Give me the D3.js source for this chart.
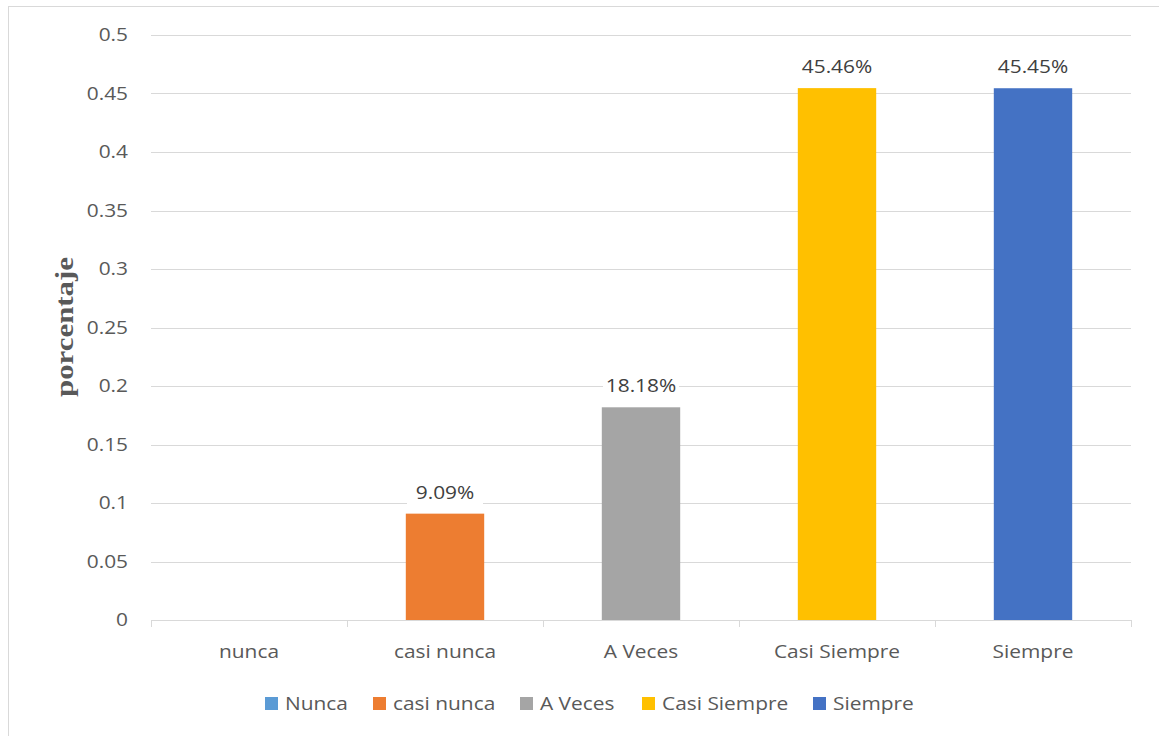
<!DOCTYPE html>
<html>
<head>
<meta charset="utf-8">
<script src="https://cdn.jsdelivr.net/npm/d3@7"></script>
<style>
  html, body { margin: 0; padding: 0; background: #fff; }
  svg { display: block; }
</style>
</head>
<body>
<svg id="chart" width="1159" height="736"></svg>
<script>
// Response categories and their share of answers
const categories = ["nunca", "casi nunca", "A Veces", "Casi Siempre", "Siempre"];
const legendNames = ["Nunca", "casi nunca", "A Veces", "Casi Siempre", "Siempre"];
const values = [0, 0.0909, 0.1818, 0.4546, 0.4545];
const valueLabels = [null, "9.09%", "18.18%", "45.46%", "45.45%"];
const colors = ["#5B9BD5", "#ED7D31", "#A5A5A5", "#FFC000", "#4472C4"];
const yTicks = [0, 0.05, 0.1, 0.15, 0.2, 0.25, 0.3, 0.35, 0.4, 0.45, 0.5];

const svg = d3.select("#chart");
const font = "'Open Sans', 'Noto Sans', sans-serif";
const stretch = 1.16; // wide text rendering

// Text helper: places a label at (x, y) with horizontal stretch
function label(parent, x, y, str, opts = {}) {
  return parent.append("text")
    .attr("transform", `translate(${x},${y}) scale(${stretch},1)`)
    .attr("text-anchor", opts.anchor || "start")
    .attr("dy", opts.dy || null)
    .attr("font-family", font)
    .attr("font-size", opts.size || 18)
    .attr("fill", opts.fill || "#595959")
    .text(str);
}

// Outer chart frame
svg.append("rect")
  .attr("x", 8.5).attr("y", 6.5)
  .attr("width", 1160).attr("height", 740)
  .attr("fill", "#fff")
  .attr("stroke", "#d9d9d9").attr("stroke-width", 1);

const plot = { left: 151, right: 1131, top: 35, bottom: 620 };

const x = d3.scaleBand()
  .domain(categories)
  .range([plot.left, plot.right])
  .paddingInner(0.6)
  .paddingOuter(0.3);

const xOuter = d3.scaleBand()
  .domain(categories)
  .range([plot.left, plot.right]);

const y = d3.scaleLinear()
  .domain([0, 0.5])
  .range([plot.bottom, plot.top]);

// Horizontal gridlines
svg.append("g")
  .selectAll("line")
  .data(yTicks.filter(t => t > 0))
  .join("line")
  .attr("x1", plot.left).attr("x2", plot.right)
  .attr("y1", d => Math.round(y(d)) + 0.5).attr("y2", d => Math.round(y(d)) + 0.5)
  .attr("stroke", "#d9d9d9").attr("stroke-width", 1);

// Y axis labels
const yLab = svg.append("g");
yTicks.forEach(t => label(yLab, 128, y(t), d3.format("")(t), { anchor: "end", dy: "0.35em" }));

// Bars
svg.append("g")
  .selectAll("rect")
  .data(values)
  .join("rect")
  .attr("x", (d, i) => x(categories[i]))
  .attr("width", x.bandwidth())
  .attr("y", d => y(d))
  .attr("height", d => y(0) - y(d))
  .attr("fill", (d, i) => colors[i]);

// X axis baseline and category ticks
const xAxis = svg.append("g");
xAxis.append("line")
  .attr("x1", plot.left).attr("x2", plot.right)
  .attr("y1", y(0) + 0.5).attr("y2", y(0) + 0.5)
  .attr("stroke", "#d9d9d9").attr("stroke-width", 1);
const tickXs = categories.map(c => xOuter(c)).concat([plot.right]);
xAxis.selectAll("line.tick")
  .data(tickXs)
  .join("line")
  .attr("class", "tick")
  .attr("x1", d => Math.round(d) + 0.5).attr("x2", d => Math.round(d) + 0.5)
  .attr("y1", y(0)).attr("y2", y(0) + 7)
  .attr("stroke", "#d9d9d9").attr("stroke-width", 1);
categories.forEach(c => label(xAxis, xOuter(c) + xOuter.bandwidth() / 2, 658, c, { anchor: "middle" }));

// Value labels with white backing
const labels = svg.append("g");
values.forEach((v, i) => {
  if (!valueLabels[i]) return;
  const cx = x(categories[i]) + x.bandwidth() / 2;
  labels.append("rect")
    .attr("x", cx - 38)
    .attr("y", y(v) - 34)
    .attr("width", 76).attr("height", 26)
    .attr("fill", "#fff");
  label(labels, cx, y(v) - 15, valueLabels[i], { anchor: "middle", fill: "#404040" });
});

// Y axis title
svg.append("text")
  .attr("transform", "translate(73,327) rotate(-90)")
  .attr("text-anchor", "middle")
  .attr("font-family", "'Liberation Serif', 'Times New Roman', serif")
  .attr("font-weight", "bold")
  .attr("font-size", 25)
  .attr("textLength", 140)
  .attr("lengthAdjust", "spacingAndGlyphs")
  .attr("fill", "#595959")
  .text("porcentaje");

// Legend
const legendX = [265, 373, 520, 642, 813];
const legend = svg.append("g");
legendNames.forEach((name, i) => {
  legend.append("rect")
    .attr("x", legendX[i]).attr("y", 697)
    .attr("width", 13).attr("height", 13)
    .attr("fill", colors[i]);
  label(legend, legendX[i] + 20, 704, name, { dy: "0.35em" });
});
</script>
</body>
</html>
